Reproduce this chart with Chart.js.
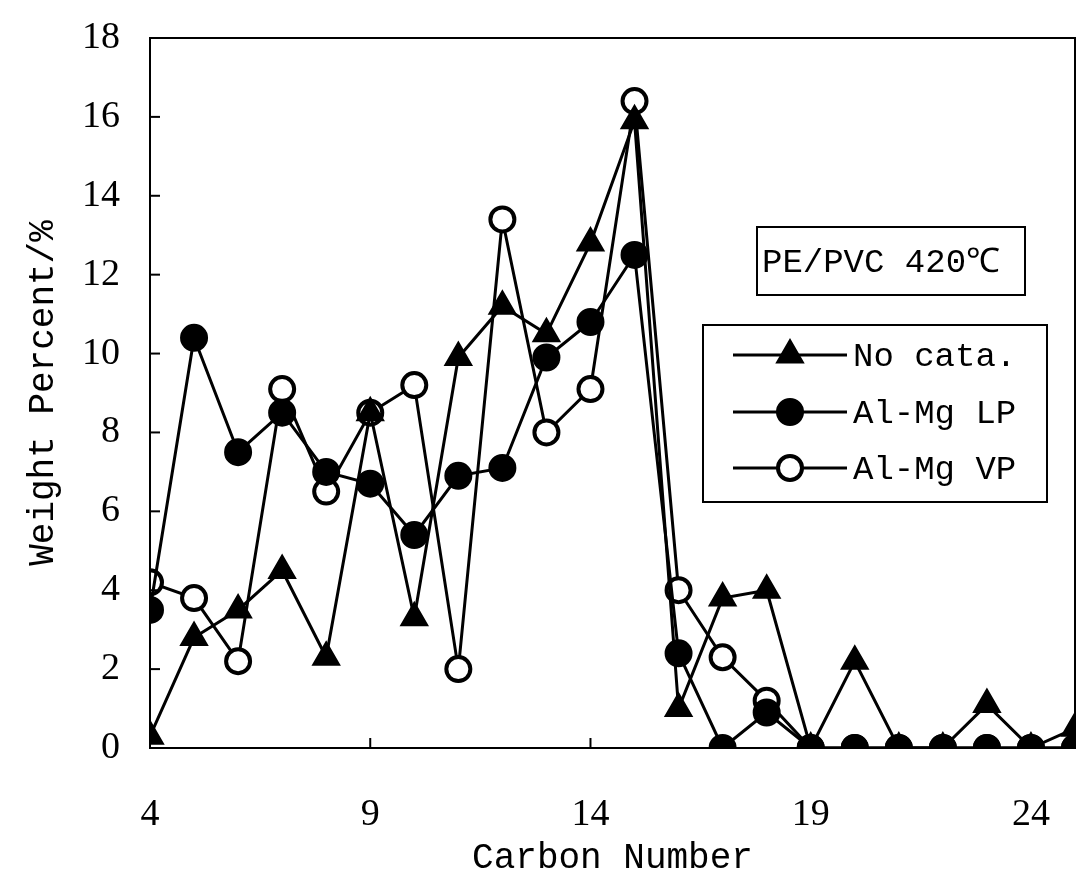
<!DOCTYPE html>
<html>
<head>
<meta charset="utf-8">
<script src="https://cdn.jsdelivr.net/npm/chart.js@4/dist/chart.umd.min.js"></script>
<style>
html,body{margin:0;padding:0;background:#fff;}
#wrap{width:1083px;height:880px;position:relative;}
</style>
</head>
<body>
<div id="wrap"><canvas id="c" width="1083" height="880"></canvas></div>
<script>
// ---- data ----
const carbonNumbers = [4,5,6,7,8,9,10,11,12,13,14,15,16,17,18,19,20,21,22,23,24,25];
const noCata  = [0.3,2.8,3.5,4.5,2.3,8.5,3.3,9.9,11.2,10.5,12.8,15.9,1.0,3.8,4.0,0,2.2,0,0,1.1,0,0.5];
const alMgLP  = [3.5,10.4,7.5,8.5,7.0,6.7,5.4,6.9,7.1,9.9,10.8,12.5,2.4,0,0.9,0,0,0,0,0,0,0];
const alMgVP  = [4.2,3.8,2.2,9.1,6.5,8.5,9.2,2.0,13.4,8.0,9.1,16.4,4.0,2.3,1.2,0,0,0,0,0,0,0];
const seriesNames = ['No cata.','Al-Mg LP','Al-Mg VP'];
const xTickValues = [4,9,14,19,24];
const yTickValues = [0,2,4,6,8,10,12,14,16,18];
const xTitle = 'Carbon Number';
const yTitle = 'Weight Percent/%';
const boxTitle = 'PE/PVC 420℃';

const toPts = arr => carbonNumbers.map((x,i)=>({x:x,y:arr[i]}));

const MONO = '"Liberation Mono", "DejaVu Sans Mono", monospace';
const SERIF = '"Liberation Serif", "DejaVu Serif", serif';

const frameAndLegend = {
  id:'frameAndLegend',
  afterDraw(chart){
    const {ctx, chartArea:a, scales} = chart;
    ctx.save();
    ctx.strokeStyle = '#000';
    ctx.lineWidth = 2;
    ctx.strokeRect(a.left, a.top, a.right-a.left, a.bottom-a.top);
    // inward ticks
    yTickValues.forEach(v=>{
      const y = scales.y.getPixelForValue(v);
      ctx.beginPath(); ctx.moveTo(a.left, y); ctx.lineTo(a.left+10, y); ctx.stroke();
    });
    xTickValues.forEach(v=>{
      const x = scales.x.getPixelForValue(v);
      ctx.beginPath(); ctx.moveTo(x, a.bottom); ctx.lineTo(x, a.bottom-10); ctx.stroke();
    });
    // title box
    ctx.fillStyle = '#fff';
    ctx.fillRect(757, 227, 268, 68);
    ctx.strokeRect(757, 227, 268, 68);
    ctx.fillStyle = '#000';
    ctx.font = '34px ' + MONO;
    ctx.textBaseline = 'middle';
    ctx.textAlign = 'left';
    ctx.fillText(boxTitle, 762, 263);
    // legend box
    ctx.fillStyle = '#fff';
    ctx.fillRect(703, 325, 344, 177);
    ctx.strokeRect(703, 325, 344, 177);
    const rows = [355, 412, 468];
    chart.data.datasets.forEach((ds, i)=>{
      const y = rows[i];
      ctx.strokeStyle = '#000';
      ctx.lineWidth = 3;
      ctx.beginPath(); ctx.moveTo(733, y); ctx.lineTo(847, y); ctx.stroke();
      ctx.fillStyle = ds.pointBackgroundColor;
      ctx.strokeStyle = ds.pointBorderColor;
      ctx.lineWidth = ds.pointBorderWidth;
      Chart.helpers.drawPoint(ctx, {pointStyle: ds.pointStyle, radius: ds.pointRadius, rotation: 0, borderWidth: ds.pointBorderWidth}, 790, y);
      ctx.fillStyle = '#000';
      ctx.font = '34px ' + MONO;
      ctx.textBaseline = 'middle';
      ctx.fillText(seriesNames[i], 853, y + 2);
    });
    ctx.restore();
  }
};

new Chart(document.getElementById('c'), {
  type: 'line',
  data: {
    datasets: [
      { label: seriesNames[0], data: toPts(noCata), borderColor:'#000', borderWidth:3,
        pointStyle:'triangle', pointRadius:15, pointBackgroundColor:'#000', pointBorderColor:'#000', pointBorderWidth:2,
        tension:0, fill:false },
      { label: seriesNames[1], data: toPts(alMgLP), borderColor:'#000', borderWidth:3,
        pointStyle:'circle', pointRadius:13, pointBackgroundColor:'#000', pointBorderColor:'#000', pointBorderWidth:2,
        tension:0, fill:false },
      { label: seriesNames[2], data: toPts(alMgVP), borderColor:'#000', borderWidth:3,
        pointStyle:'circle', pointRadius:12, pointBackgroundColor:'#fff', pointBorderColor:'#000', pointBorderWidth:4,
        tension:0, fill:false }
    ]
  },
  options: {
    responsive: false,
    animation: false,
    devicePixelRatio: 1,
    layout: { autoPadding: false, padding: { top: 38, right: 8, left: 0, bottom: 0 } },
    plugins: { legend: { display: false }, tooltip: { enabled: false } },
    scales: {
      x: {
        type: 'linear', min: 4, max: 25, position: 'bottom',
        grid: { display: false, drawTicks: false },
        border: { display: false },
        afterBuildTicks: s => { s.ticks = xTickValues.map(v=>({value:v})); },
        afterFit: s => { s.height = 132; s.paddingLeft = 0; s.paddingRight = 0; },
        ticks: { color:'#000', padding: 44, autoSkip:false, maxRotation:0, font:{ family: SERIF, size: 38 } },
        title: { display:true, text: xTitle, color:'#000', padding:{top:0,bottom:0}, font:{ family: MONO, size: 36 } }
      },
      y: {
        min: 0, max: 18,
        grid: { display: false, drawTicks: false },
        border: { display: false },
        afterBuildTicks: s => { s.ticks = yTickValues.map(v=>({value:v})); },
        afterFit: s => { s.width = 150; s.paddingTop = 0; s.paddingBottom = 0; },
        ticks: { color:'#000', padding: 30, font:{ family: SERIF, size: 38 } },
        title: { display:true, text: yTitle, color:'#000', padding:{top:22,bottom:0}, font:{ family: MONO, size: 36 } }
      }
    }
  },
  plugins: [frameAndLegend]
});
</script>
</body>
</html>
